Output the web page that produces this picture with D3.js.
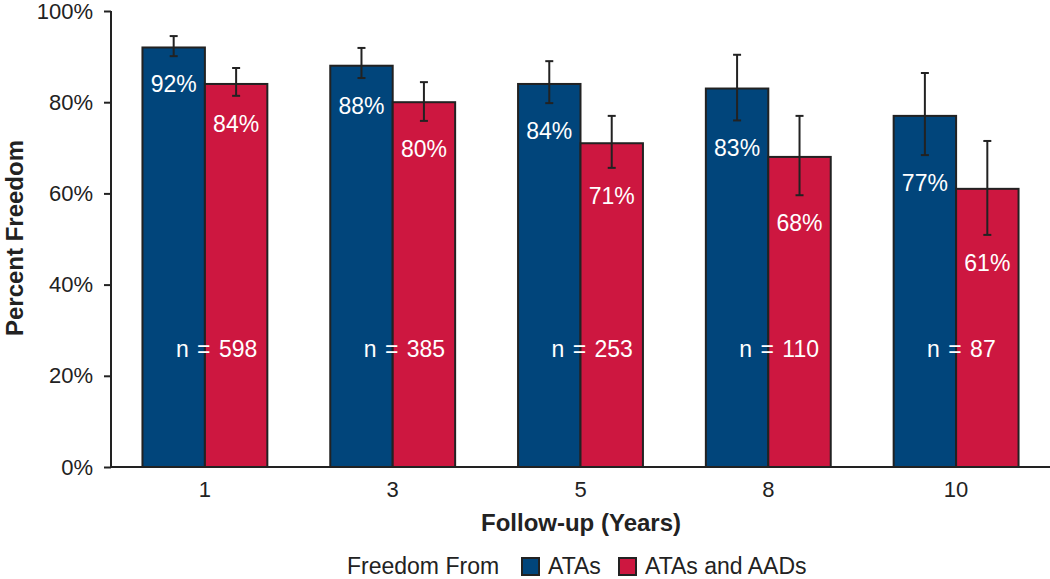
<!DOCTYPE html>
<html lang="en">
<head>
<meta charset="UTF-8">
<title>Percent Freedom by Follow-up</title>
<style>
  body { margin: 0; background: #fff; }
  svg { display: block; font-family: "Liberation Sans", Arial, sans-serif; }
  .axis path, .axis line { stroke: #222; stroke-width: 2px; }
  .axis text { fill: #222; font-size: 22px; }
</style>
</head>
<body>
<svg width="1050" height="579"></svg>
<script src="https://d3js.org/d3.v7.min.js"></script>
<script>
// data
const years = ["1", "3", "5", "8", "10"];
const nPatients = [598, 385, 253, 110, 87];
const seriesNames = ["ATAs", "ATAs and AADs"];
const atas = [92, 88, 84, 83, 77];
const atasLow = [90.1, 85.3, 79.8, 76, 68.4];
const atasHigh = [94.5, 91.9, 89, 90.4, 86.4];
const atasAads = [84, 80, 71, 68, 61];
const atasAadsLow = [81.4, 75.9, 65.6, 59.6, 50.9];
const atasAadsHigh = [87.5, 84.4, 77, 77, 71.5];
const yTicks = [0, 20, 40, 60, 80, 100];
const colors = ["#01457b", "#cd1740"];

const svg = d3.select("svg");
const mLeft = 111, mRight = 1050, mTop = 11, mBottom = 467;

const x0 = d3.scaleBand().domain(years).range([mLeft, mRight]);
const groupW = x0.bandwidth() * 0.665;
const xs = d3.scaleBand().domain(seriesNames).range([0, groupW]);
const y = d3.scaleLinear().domain([0, 100]).range([mBottom, mTop]);

const rows = years.map((yr, i) => ({
  year: yr,
  n: nPatients[i],
  bars: [
    { s: seriesNames[0], v: atas[i], lo: atasLow[i], hi: atasHigh[i] },
    { s: seriesNames[1], v: atasAads[i], lo: atasAadsLow[i], hi: atasAadsHigh[i] }
  ]
}));

// bars
const g = svg.append("g").selectAll("g").data(rows).join("g")
  .attr("transform", d => `translate(${x0(d.year) + (x0.bandwidth() - groupW) / 2},0)`);

g.selectAll("rect").data(d => d.bars).join("rect")
  .attr("x", d => xs(d.s))
  .attr("y", d => y(d.v))
  .attr("width", xs.bandwidth())
  .attr("height", d => y(0) - y(d.v))
  .attr("fill", (d, i) => colors[i])
  .attr("stroke", "#222")
  .attr("stroke-width", 2);

// error bars
const eb = g.selectAll("g.err").data(d => d.bars).join("g").attr("class", "err")
  .attr("transform", d => `translate(${xs(d.s) + xs.bandwidth() / 2},0)`)
  .attr("stroke", "#222").attr("stroke-width", 2);
eb.append("line").attr("y1", d => y(d.lo)).attr("y2", d => y(d.hi));
eb.append("line").attr("x1", -4).attr("x2", 4).attr("y1", d => y(d.hi)).attr("y2", d => y(d.hi));
eb.append("line").attr("x1", -4).attr("x2", 4).attr("y1", d => y(d.lo)).attr("y2", d => y(d.lo));

// value labels
g.selectAll("text.val").data(d => d.bars).join("text").attr("class", "val")
  .attr("x", d => xs(d.s) + xs.bandwidth() / 2)
  .attr("y", d => y(d.lo) + 36)
  .attr("text-anchor", "middle")
  .attr("fill", "#fff")
  .style("font-size", "23px")
  .text(d => d.v + "%");

// n labels (left aligned a bit before the group centre)
g.append("text")
  .attr("x", groupW / 2 - 29)
  .attr("y", 357)
  .attr("fill", "#fff")
  .style("font-size", "23px")
  .style("word-spacing", "2px")
  .text(d => "n = " + d.n);

// axes
svg.append("g").attr("class", "axis")
  .attr("transform", `translate(${mLeft},0)`)
  .call(d3.axisLeft(y).tickValues(yTicks).tickSize(7).tickPadding(11).tickFormat(d => d + "%"))
  .call(a => a.select(".domain").attr("d", `M0,${mTop}V${mBottom}`));

svg.append("g").attr("class", "axis")
  .attr("transform", `translate(0,${mBottom})`)
  .call(d3.axisBottom(x0).tickSize(0).tickPadding(14))
  .call(a => a.select(".domain").attr("d", `M${mLeft},0H${mRight}`));

// axis titles
svg.append("text")
  .attr("transform", "translate(23,238) rotate(-90)")
  .attr("text-anchor", "middle")
  .attr("fill", "#222")
  .style("font-size", "24px").style("font-weight", "bold")
  .text("Percent Freedom");

svg.append("text")
  .attr("x", 581)
  .attr("y", 531)
  .attr("text-anchor", "middle")
  .attr("fill", "#222")
  .style("font-size", "24px").style("font-weight", "bold")
  .text("Follow-up (Years)");

// legend
const leg = svg.append("g").attr("transform", "translate(347,574)").style("font-size", "23px").attr("fill", "#222");
leg.append("text").text("Freedom From");
const items = [{ name: seriesNames[0], x: 175 }, { name: seriesNames[1], x: 272 }];
items.forEach((it, i) => {
  leg.append("rect").attr("x", it.x).attr("y", -16).attr("width", 17).attr("height", 17)
    .attr("fill", colors[i]).attr("stroke", "#222").attr("stroke-width", 2);
  leg.append("text").attr("x", it.x + 26).text(it.name);
});
</script>
</body>
</html>
